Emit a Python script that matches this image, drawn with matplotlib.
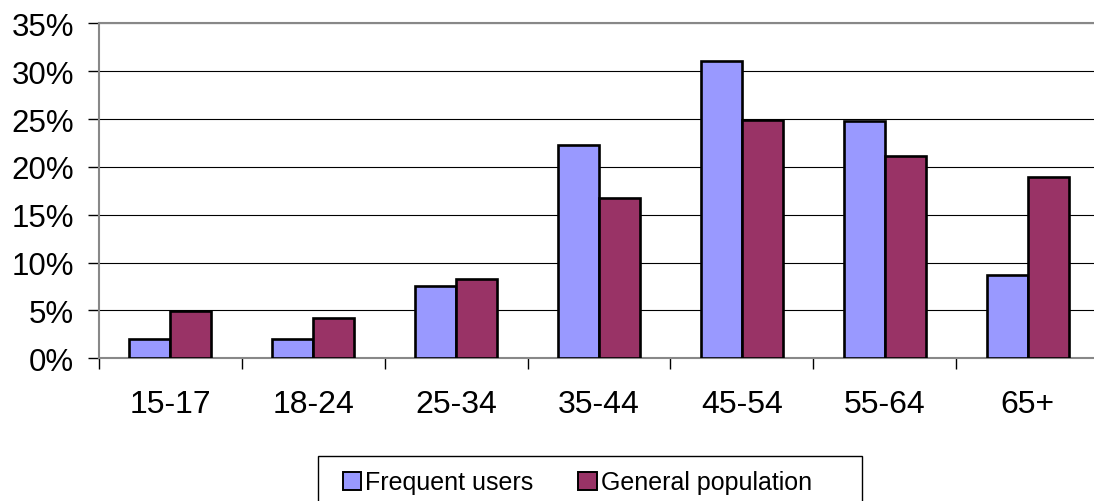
import numpy as np
import matplotlib
matplotlib.use("Agg")
import matplotlib.pyplot as plt
from matplotlib.patches import Patch, Rectangle
from matplotlib.ticker import FixedLocator, FuncFormatter

age_groups = ["15-17", "18-24", "25-34", "35-44", "45-54", "55-64", "65+"]
frequent_users = [2.0, 2.0, 7.6, 22.3, 31.1, 24.8, 8.7]
general_population = [4.9, 4.2, 8.3, 16.7, 24.9, 21.1, 18.9]
series_labels = ["Frequent users", "General population"]
colors = ["#9999FF", "#993366"]

plt.rcParams["font.family"] = ["Liberation Sans", "DejaVu Sans"]

fig = plt.figure(figsize=(10.94, 5.02), dpi=100)
ax = fig.add_axes([99 / 1094, 142.7 / 502, 1000 / 1094, 335 / 502])

n = len(age_groups)
x = np.arange(n) + 0.5
w = 41 / 143

ax.bar(x - w / 2, frequent_users, w, color=colors[0], edgecolor="black",
       linewidth=1.9, zorder=3)
ax.bar(x + w / 2, general_population, w, color=colors[1], edgecolor="black",
       linewidth=1.9, zorder=3)

ax.set_xlim(0, n)
ax.set_ylim(0, 35)

# category labels in the middle, tick marks on the boundaries
ax.set_xticks(x)
ax.set_xticklabels(age_groups)
ax.xaxis.set_minor_locator(FixedLocator(np.arange(n + 1)))
ax.tick_params(axis="x", which="major", length=0, pad=22, labelsize=23)
ax.tick_params(axis="x", which="minor", length=8, width=1, color="black")

ax.set_yticks(np.arange(0, 36, 5))
ax.yaxis.set_major_formatter(FuncFormatter(lambda v, p: f"{v:.0f}%"))
ax.tick_params(axis="y", length=8, width=1, color="black", pad=10, labelsize=22.5)

ax.grid(axis="y", color="black", linewidth=0.8, zorder=0)
ax.set_axisbelow(True)

for side in ["left", "bottom", "top"]:
    ax.spines[side].set_color("#888888")
    ax.spines[side].set_linewidth(1.5)
ax.spines["right"].set_visible(False)

handles = [Patch(facecolor=c, edgecolor="black", linewidth=1.4) for c in colors]
leg = fig.legend(handles, series_labels, loc="upper left",
                 bbox_to_anchor=(330 / 1094, 1 - 459 / 502),
                 ncol=2, fontsize=18, frameon=False,
                 handlelength=0.75, handleheight=0.75,
                 handletextpad=0.15, columnspacing=1.8, borderpad=0.5,
                 borderaxespad=0)

# legend box, cut off by the bottom edge like in the original
fig.patches.append(Rectangle((318 / 1094, -0.05), 544 / 1094, 45 / 502 + 0.05,
                             transform=fig.transFigure, fill=False,
                             edgecolor="black", linewidth=1.0))

fig.savefig("out.png", dpi=100)
